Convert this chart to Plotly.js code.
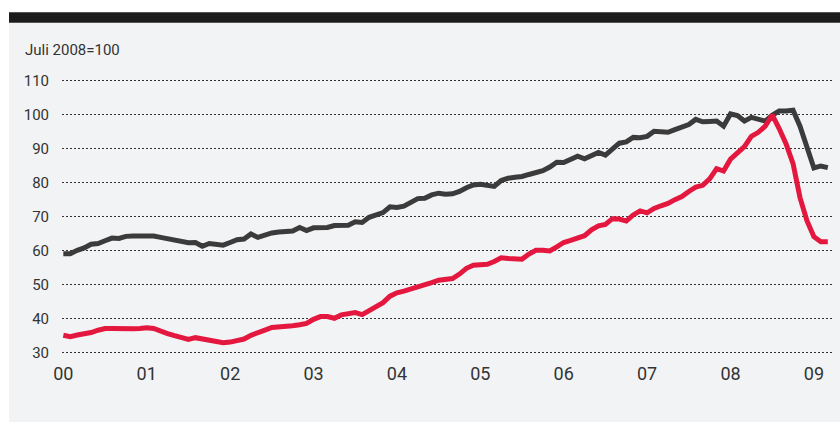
<!DOCTYPE html>
<html>
<head>
<meta charset="utf-8">
<script src="https://cdn.plot.ly/plotly-3.0.1.min.js"></script>
<style>
html,body{margin:0;padding:0;background:#fff;}
#chart{width:840px;height:422px;}
</style>
</head>
<body>
<div id="chart"></div>
<script>
// Monthly index values, Jan 2000 .. Mar 2009 (Juli 2008 = 100)
var startYear = 2000;
var greySeries = [
  59.0, 59.0, 60.0, 60.7, 61.8, 62.0, 62.8, 63.6, 63.5, 64.1,
  64.2, 64.3, 64.3, 64.2, 63.8, 63.4, 63.0, 62.7, 62.2, 62.3,
  61.2, 62.0, 61.9, 61.5, 62.3, 63.1, 63.3, 64.8, 63.8, 64.5,
  65.1, 65.4, 65.6, 65.7, 66.7, 65.8, 66.6, 66.5, 66.7, 67.3,
  67.4, 67.4, 68.4, 68.2, 69.7, 70.6, 71.1, 72.8, 72.6, 73.0,
  74.0, 75.2, 75.3, 76.3, 76.8, 76.5, 76.6, 77.3, 78.4, 79.2,
  79.4, 79.1, 78.8, 80.5, 81.2, 81.5, 81.7, 82.3, 82.8, 83.4,
  84.5, 85.9, 85.8, 86.8, 87.7, 86.9, 87.8, 88.8, 88.0, 89.8,
  91.5, 91.9, 93.2, 93.1, 93.5, 95.0, 94.8, 94.7, 95.5, 96.3,
  97.0, 98.5, 97.8, 97.9, 98.0, 96.5, 100.1, 99.6, 98.0, 99.1,
  98.7, 98.0, 99.7, 101.0, 101.0, 101.2, 96.5, 90.5, 84.2, 84.8, 84.3
];
var redSeries = [
  35.0, 34.6, 35.1, 35.3, 35.8, 36.5, 37.0, 37.0, 36.9, 36.8,
  36.9, 37.0, 37.2, 37.0, 36.1, 35.5, 34.9, 34.4, 33.8, 34.3,
  34.0, 33.6, 33.1, 32.8, 33.0, 33.4, 33.9, 35.0, 35.6, 36.5,
  37.3, 37.4, 37.6, 37.8, 38.1, 38.5, 39.7, 40.5, 40.5, 40.0,
  41.0, 41.5, 41.7, 41.1, 42.2, 43.7, 44.6, 46.5, 47.5, 48.0,
  48.6, 49.1, 49.6, 50.5, 51.2, 51.3, 51.7, 53.0, 54.7, 55.6,
  55.9, 55.9, 56.7, 57.8, 57.6, 57.4, 57.4, 58.9, 60.0, 60.0,
  59.8, 61.0, 62.3, 62.9, 63.6, 64.3, 66.0, 67.2, 67.6, 69.3,
  69.2, 68.6, 70.4, 71.6, 71.0, 72.3, 73.1, 73.8, 74.9, 75.8,
  77.3, 78.6, 79.1, 81.0, 84.0, 83.3, 86.8, 88.7, 90.5, 93.5,
  94.7, 96.5, 99.8, 95.8, 91.3, 85.5, 75.5, 68.7, 64.0, 62.5, 62.5
];
var yearTicks = [2000, 2001, 2002, 2003, 2004, 2005, 2006, 2007, 2008, 2009];
var yearLabels = ['00', '01', '02', '03', '04', '05', '06', '07', '08', '09'];
var yTicks = [30, 40, 50, 60, 70, 80, 90, 100, 110];
var unitLabel = 'Juli 2008=100';

var months = greySeries.map(function (_, i) { return startYear + i / 12; });

var traces = [
  {x: months, y: greySeries, type: 'scatter', mode: 'lines',
   line: {color: '#3b3b3b', width: 5}, hoverinfo: 'skip'},
  {x: months, y: redSeries, type: 'scatter', mode: 'lines',
   line: {color: '#e4183f', width: 5}, hoverinfo: 'skip'}
];

var L = 62, R = 7, T = 74, B = 63, W = 840, H = 422;
var pw = W - L - R, ph = H - T - B;
function px(x) { return (x - L) / pw; }
function py(y) { return (H - B - y) / ph; }

var layout = {
  width: W, height: H,
  margin: {l: L, r: R, t: T, b: B, pad: 0},
  paper_bgcolor: '#ffffff',
  plot_bgcolor: 'rgba(0,0,0,0)',
  showlegend: false,
  font: {family: 'Roboto, "DejaVu Sans", sans-serif', color: '#333333'},
  xaxis: {
    range: [1999.984, 2009.229],
    tickmode: 'array', tickvals: yearTicks, ticktext: yearLabels,
    showgrid: false, zeroline: false, showline: false, ticks: '',
    tickfont: {size: 18, color: '#333333'},
    ticklabelstandoff: 2,
    fixedrange: true
  },
  yaxis: {
    range: [28.03, 111.85],
    tickmode: 'array', tickvals: yTicks,
    showgrid: true, gridcolor: '#333333', gridwidth: 1, griddash: '2px,2px',
    zeroline: false, showline: false, ticks: '',
    tickfont: {size: 15, color: '#333333'},
    ticklabelstandoff: 12,
    fixedrange: true
  },
  shapes: [
    {type: 'rect', xref: 'paper', yref: 'paper', layer: 'below',
     x0: px(9), x1: px(840), y0: py(422), y1: py(22.7),
     fillcolor: '#f2f3f5', line: {width: 0}},
    {type: 'rect', xref: 'paper', yref: 'paper', layer: 'below',
     x0: px(9), x1: px(840), y0: py(22.7), y1: py(12.3),
     fillcolor: '#1c1c1c', line: {width: 0}}
  ],
  annotations: [
    {text: unitLabel, xref: 'paper', yref: 'paper', x: px(23), y: py(50),
     xanchor: 'left', yanchor: 'middle', showarrow: false,
     font: {size: 15, color: '#333333'}}
  ]
};

Plotly.newPlot('chart', traces, layout, {displayModeBar: false, staticPlot: true});
</script>
</body>
</html>
